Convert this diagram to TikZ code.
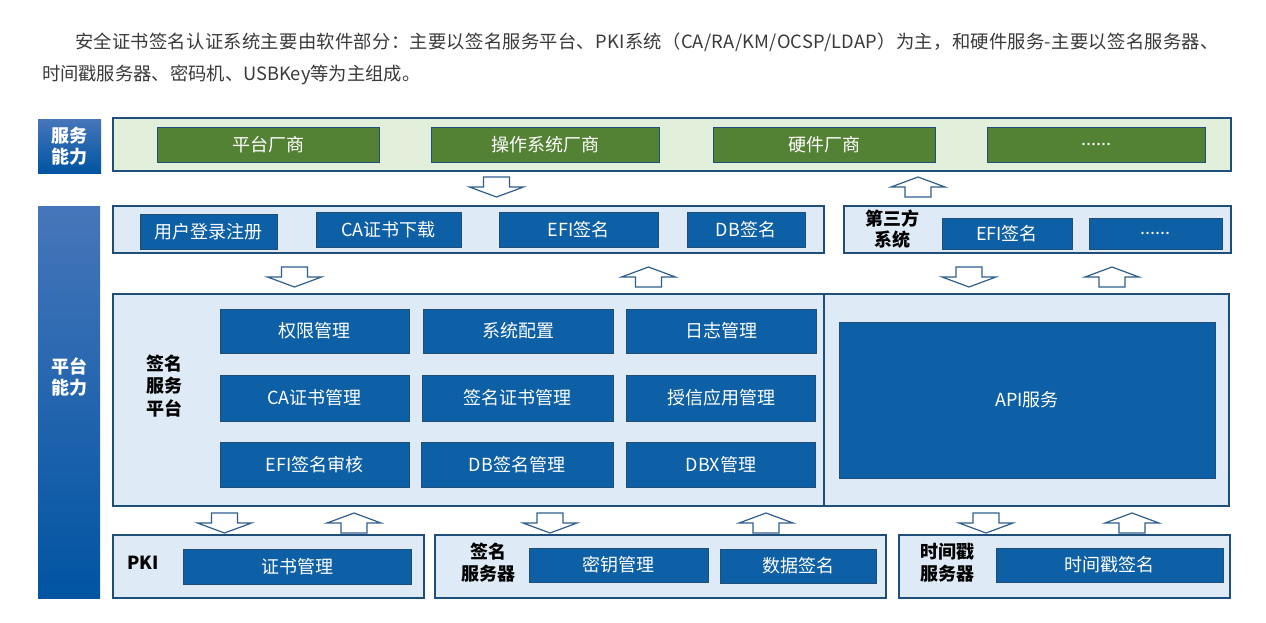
\documentclass[tikz,border=0pt]{standalone}
\usepackage{fontspec}
\setmainfont{Noto Sans CJK SC}
\definecolor{txtgray}{HTML}{3A3A3A}
\definecolor{navy}{HTML}{1F4E79}
\definecolor{bluefill}{HTML}{0D5FA6}
\definecolor{lightblue}{HTML}{DEEAF6}
\definecolor{lightgreen}{HTML}{E2EFDA}
\definecolor{greenfill}{HTML}{548235}
\definecolor{arrowcol}{HTML}{2F5F8F}
\definecolor{barTop}{HTML}{4676BA}
\definecolor{barBot}{HTML}{0054A2}
\tikzset{
  every node/.style={inner sep=0pt, outer sep=0pt},
  bar/.style={rectangle, top color=barTop, bottom color=barBot, draw=none, text=white,
    font=\fontsize{18}{21}\selectfont\bfseries, align=center},
  greencont/.style={rectangle, fill=lightgreen, draw=navy, line width=1.3pt},
  bluecont/.style={rectangle, fill=lightblue, draw=navy, line width=1.3pt},
  greenbox/.style={rectangle, fill=greenfill, draw=navy, line width=1pt, text=white,
    font=\fontsize{18}{22}\selectfont, minimum height=35pt},
  bluebox/.style={rectangle, fill=bluefill, draw=navy, line width=1pt, text=white,
    font=\fontsize{18}{22}\selectfont},
  lbl/.style={text=black, font=\fontsize{18}{22}\selectfont\bfseries, align=center},
  paratext/.style={anchor=west, text=txtgray, font=\fontsize{18.3}{20}\selectfont},
  arrowline/.style={draw=arrowcol, fill=white, line width=1.2pt, line join=miter},
  downarr/.pic={\path[arrowline] (-13,0) -- (13,0) -- (13,10) -- (27,10) -- (0,20) -- (-27,10) -- (-13,10) -- cycle;},
  uparr/.pic={\path[arrowline] (0,0) -- (27,10) -- (13,10) -- (13,20) -- (-13,20) -- (-13,10) -- (-27,10) -- cycle;},
}
\begin{document}
\begin{tikzpicture}[x=1pt,y=-1pt]
\useasboundingbox (0,0) rectangle (1266,622);
\fill[white] (0,0) rectangle (1266,622);

% paragraph
\node[paratext] (para1) at (75,42)
  {\addfontfeature{LetterSpace=1.6}安全证书签名认证系统主要由软件部分：主要以签名服务平台、PKI系统（CA/RA/KM/OCSP/LDAP）为主，和硬件服务-主要以签名服务器、};
\node[paratext] (para2) at (42,75)
  {时间戳服务器、密码机、USBKey等为主组成。};

% left bars
\node[bar, minimum width=63pt, minimum height=54pt] (bar1) at (69.5,146) {服务\\能力};
\node[bar, minimum width=62pt, minimum height=392pt] (bar2) at (69,402) {};
\node[text=white, font=\fontsize{18}{21.5}\selectfont\bfseries, align=center] (bar2lbl) at (69,377) {平台\\能力};

% top green layer
\node[greencont, minimum width=1118pt, minimum height=53pt] (c1) at (672,144.5) {};
\node[greenbox, minimum width=222pt] (g1) at (268,144.5) {平台厂商};
\node[greenbox, minimum width=228pt] (g2) at (545,144.5) {操作系统厂商};
\node[greenbox, minimum width=222pt] (g3) at (824,144.5) {硬件厂商};
\node[greenbox, minimum width=218pt] (g4) at (1096,144.5) {......};

\pic (a1) at (496.5,177) {downarr};
\pic (a2) at (918,177) {uparr};

% second row
\node[bluecont, minimum width=711pt, minimum height=47pt] (c2) at (468.5,229.5) {};
\node[bluebox, minimum width=137pt, minimum height=35pt] (r1) at (208.5,231.5) {用户登录注册};
\node[bluebox, minimum width=145pt, minimum height=35pt] (r2) at (388.5,229.5) {CA证书下载};
\node[bluebox, minimum width=159pt, minimum height=35pt] (r3) at (578.5,229.5) {EFI签名};
\node[bluebox, minimum width=118pt, minimum height=35pt] (r4) at (746,229.5) {DB签名};

\node[bluecont, minimum width=387pt, minimum height=47pt] (c3) at (1037.5,229.5) {};
\node[lbl, font=\fontsize{18}{21}\selectfont\bfseries] (l3) at (892,229) {第三方\\系统};
\node[bluebox, minimum width=130pt, minimum height=31pt] (t1) at (1007,233.5) {EFI签名};
\node[bluebox, minimum width=133pt, minimum height=31pt] (t2) at (1155.5,233.5) {......};

\pic (a3) at (294.5,267) {downarr};
\pic (a4) at (648.5,267) {uparr};
\pic (a5) at (969,267) {downarr};
\pic (a6) at (1112,267) {uparr};

% middle layer
\node[bluecont, minimum width=711pt, minimum height=212pt] (mL) at (468.5,400) {};
\node[bluecont, minimum width=405pt, minimum height=212pt] (mR) at (1026.5,400) {};
\node[lbl, font=\fontsize{18}{22.5}\selectfont\bfseries] (lm) at (164,386) {签名\\服务\\平台};

\node[bluebox, minimum width=189pt, minimum height=44pt] (m11) at (314.5,331) {权限管理};
\node[bluebox, minimum width=190pt, minimum height=44pt] (m12) at (518,331) {系统配置};
\node[bluebox, minimum width=190pt, minimum height=44pt] (m13) at (721,331) {日志管理};
\node[bluebox, minimum width=189pt, minimum height=46pt] (m21) at (314.5,398) {CA证书管理};
\node[bluebox, minimum width=191pt, minimum height=46pt] (m22) at (517.5,398) {签名证书管理};
\node[bluebox, minimum width=189pt, minimum height=46pt] (m23) at (721,398) {授信应用管理};
\node[bluebox, minimum width=189pt, minimum height=45pt] (m31) at (314.5,464.5) {EFI签名审核};
\node[bluebox, minimum width=192pt, minimum height=45pt] (m32) at (517,464.5) {DB签名管理};
\node[bluebox, minimum width=189pt, minimum height=45pt] (m33) at (721,464.5) {DBX管理};

\node[bluebox, minimum width=376pt, minimum height=156pt] (api) at (1027,400) {API服务};

\pic (a7) at (224.5,513) {downarr};
\pic (a8) at (354,513) {uparr};
\pic (a9) at (550,513) {downarr};
\pic (a10) at (766,513) {uparr};
\pic (a11) at (986,513) {downarr};
\pic (a12) at (1132,513) {uparr};

% bottom layer
\node[bluecont, minimum width=311pt, minimum height=63pt] (pki) at (268.5,566.5) {};
\node[lbl] (lpki) at (143,563) {PKI};
\node[bluebox, minimum width=228pt, minimum height=35pt] (p1) at (297,566.5) {证书管理};

\node[bluecont, minimum width=451pt, minimum height=63pt] (ss) at (660.5,566.5) {};
\node[lbl, font=\fontsize{18}{22}\selectfont\bfseries] (lss) at (488,563) {签名\\服务器};
\node[bluebox, minimum width=179pt, minimum height=34pt] (s1) at (618.5,565) {密钥管理};
\node[bluebox, minimum width=156pt, minimum height=34pt] (s2) at (798,566) {数据签名};

\node[bluecont, minimum width=331pt, minimum height=63pt] (ts) at (1064.5,566.5) {};
\node[lbl, font=\fontsize{18}{22}\selectfont\bfseries] (lts) at (947,563) {时间戳\\服务器};
\node[bluebox, minimum width=227pt, minimum height=34pt] (ts1) at (1109.5,565) {时间戳签名};
\end{tikzpicture}
\end{document}
